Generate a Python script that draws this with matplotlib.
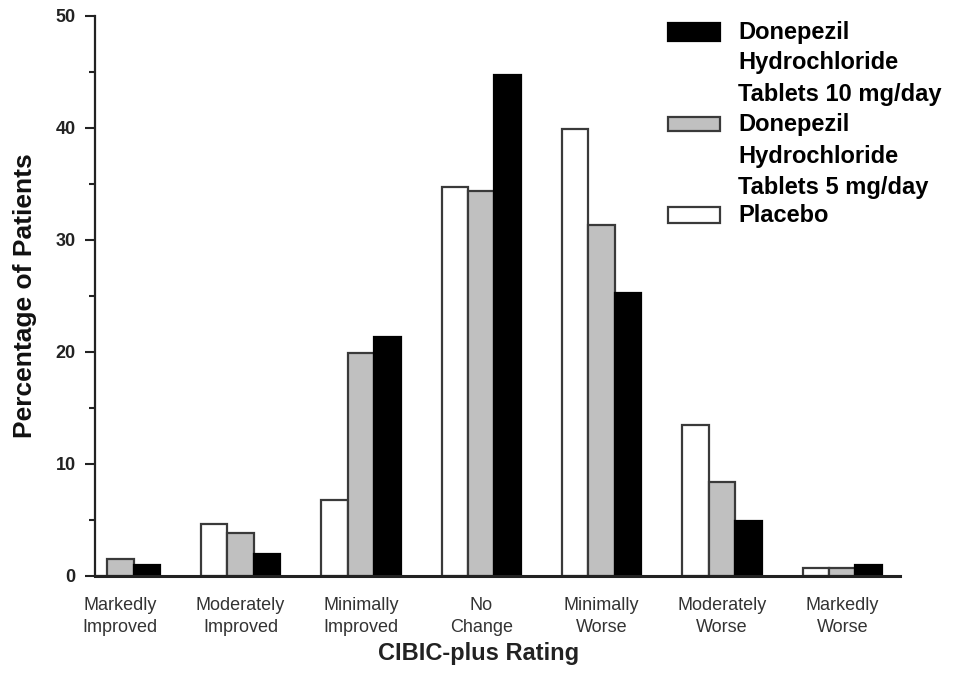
import matplotlib
matplotlib.use("Agg")
import matplotlib.pyplot as plt
import numpy as np
from matplotlib.patches import Rectangle

categories = ["Markedly\nImproved", "Moderately\nImproved", "Minimally\nImproved",
              "No\nChange", "Minimally\nWorse", "Moderately\nWorse", "Markedly\nWorse"]
placebo = [0.0, 4.6, 6.8, 34.7, 39.9, 13.5, 0.7]
dose5 = [1.5, 3.8, 19.9, 34.4, 31.3, 8.4, 0.7]
dose10 = [1.0, 2.0, 21.3, 44.7, 25.3, 4.9, 1.0]
legend_lines_10 = ["Donepezil", "Hydrochloride", "Tablets 10 mg/day"]
legend_lines_5 = ["Donepezil", "Hydrochloride", "Tablets 5 mg/day"]
legend_lines_pl = ["Placebo"]
yticks = [0, 10, 20, 30, 40, 50]
yminor = [5, 15, 25, 35, 45]

plt.rcParams['font.family'] = ['Liberation Sans', 'DejaVu Sans']

W, H = 964, 689
fig = plt.figure(figsize=(W / 100, H / 100), dpi=100)
ax = fig.add_axes([95 / W, 1 - 576 / H, (900 - 95) / W, (576 - 16) / H])

x = np.arange(len(categories))
w = 0.22
ec = '#3a3a3a'
ax.bar(x - w, placebo, w, color='white', edgecolor=ec, linewidth=1.6, zorder=2)
ax.bar(x, dose5, w, color='#c0c0c0', edgecolor=ec, linewidth=1.6, zorder=2)
ax.bar(x + w, dose10, w, color='black', edgecolor='black', linewidth=1.6, zorder=2)

ax.set_xlim(-0.21, 6.48)
ax.set_ylim(0, 50)
ax.set_yticks(yticks)
ax.set_yticks(yminor, minor=True)
ax.set_yticklabels([str(t) for t in yticks], fontsize=13, fontweight='bold', color='#222222')
ax.tick_params(axis='y', which='major', length=7, width=1.5, color='#222222', pad=7)
ax.tick_params(axis='y', which='minor', length=4, width=1.5, color='#222222')
ax.set_xticks(x)
ax.set_xticklabels(categories, fontsize=13, color='#333333', linespacing=1.4)
ax.tick_params(axis='x', length=0, pad=15)

for s in ['top', 'right']:
    ax.spines[s].set_visible(False)
ax.spines['left'].set_linewidth(1.6)
ax.spines['left'].set_color('#222222')
ax.spines['bottom'].set_linewidth(2.2)
ax.spines['bottom'].set_color('#222222')

ax.set_ylabel("Percentage of Patients", fontsize=19, fontweight='bold', color='#111111')
ax.yaxis.set_label_coords((37 - 95) / 805, 0.5)
ax.set_xlabel("CIBIC-plus Rating", fontsize=17, fontweight='bold', color='#222222')
ax.xaxis.set_label_coords((479 - 95) / 805, (576 - 642) / 560)

def fx(px):
    return px / W

def fy(py):
    return 1 - py / H

# legend patches
patch_specs = [('black', 'black', 23, 41), ('#c0c0c0', ec, 117, 131), ('white', ec, 207, 223)]
for fc, e, y0, y1 in patch_specs:
    fig.patches.append(Rectangle((fx(668), fy(y1)), fx(720) - fx(668), fy(y0) - fy(y1),
                                 transform=fig.transFigure, facecolor=fc, edgecolor=e,
                                 linewidth=1.6))

legend_text = [(legend_lines_10, [32, 63, 94]), (legend_lines_5, [125, 157, 188]),
               (legend_lines_pl, [216])]
for lines, ys in legend_text:
    for t, yy in zip(lines, ys):
        fig.text(fx(738), fy(yy), t, fontsize=17, fontweight='bold', color='black',
                 va='center', ha='left')

fig.savefig("out.png", dpi=100)
